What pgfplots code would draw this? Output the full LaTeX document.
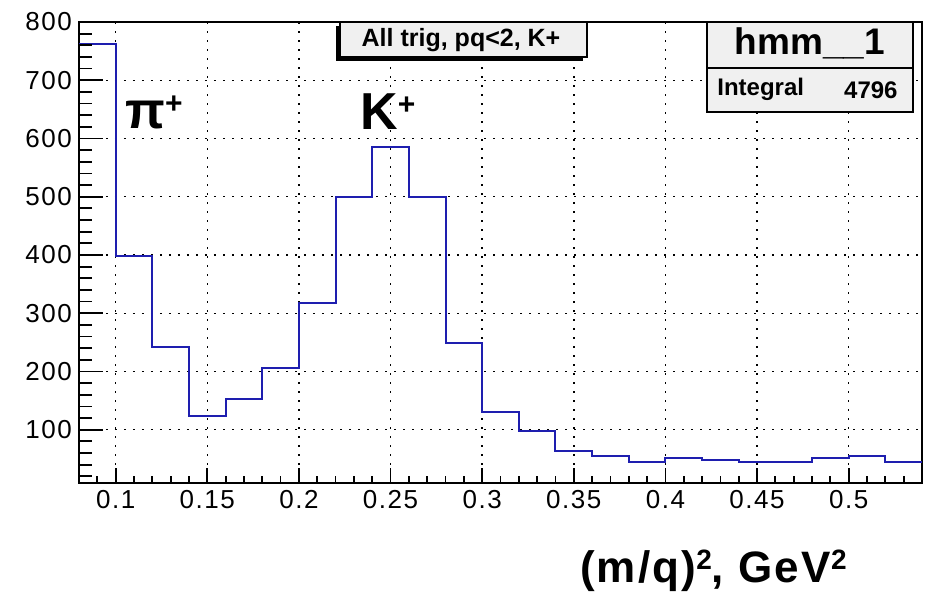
\documentclass[border=0pt]{standalone}
\usepackage{fontspec}
\setmainfont{Liberation Sans}
\newfontfamily\tickfont[LetterSpace=6]{Liberation Sans}
\newfontfamily\boldspaced[LetterSpace=5]{Liberation Sans Bold}
\usepackage{pgfplots}
\pgfplotsset{compat=1.18}
\definecolor{histblue}{RGB}{30,30,175}
\definecolor{boxgray}{RGB}{240,240,240}
\pgfplotsset{
  rootframe/.style={
    at={(0,0)}, anchor=south west,
    scale only axis, width=421.5pt, height=230.5pt,
    xmin=0.08, xmax=0.54, ymin=8.5, ymax=800,
  }
}
\begin{document}
\begin{tikzpicture}
\path[use as bounding box] (-39.5pt,-58pt) rectangle (426.5pt,241.5pt);
\begin{axis}[
  rootframe,
  axis line style={line width=1pt},
  tick align=inside,
  xtick pos=bottom, ytick pos=left,
  /pgf/number format/assume math mode=true,
  xtick={0.1,0.15,0.2,0.25,0.3,0.35,0.4,0.45,0.5},
  xticklabels={0.1,0.15,0.2,0.25,0.3,0.35,0.4,0.45,0.5},
  minor xtick={0.09,0.11,0.12,0.13,0.14,0.16,0.17,0.18,0.19,0.21,0.22,0.23,0.24,0.26,0.27,0.28,0.29,0.31,0.32,0.33,0.34,0.36,0.37,0.38,0.39,0.41,0.42,0.43,0.44,0.46,0.47,0.48,0.49,0.51,0.52,0.53},
  ytick={100,200,300,400,500,600,700,800},
  yticklabels={100,200,300,400,500,600,700,800},
  minor ytick={20,40,60,80,120,140,160,180,220,240,260,280,320,340,360,380,420,440,460,480,520,540,560,580,620,640,660,680,720,740,760,780},
  major tick length=7.5pt, minor tick length=3.5pt,
  tick style={black, line width=0.9pt},
  ticklabel style={font=\tickfont\fontsize{13}{15}\selectfont},
  xmajorgrids, ymajorgrids,
  major grid style={black, line width=0.7pt, dash pattern=on 0.8pt off 3.7pt},
]
\addplot[const plot mark left, histblue, line width=1pt, mark=none] coordinates {
(0.08,763) (0.10,398) (0.12,242) (0.14,123) (0.16,153) (0.18,206)
(0.20,318) (0.22,500) (0.24,585) (0.26,499) (0.28,249) (0.30,130)
(0.32,97) (0.34,64) (0.36,54) (0.38,44) (0.40,51) (0.42,48)
(0.44,44) (0.46,44) (0.48,51) (0.50,54) (0.52,44) (0.54,44)
};
\end{axis}
% overlay axis: longer y ticks as in the reference
\begin{axis}[
  rootframe,
  axis line style={draw=none},
  tick align=inside,
  xtick=\empty,
  ytick pos=left,
  ytick={100,200,300,400,500,600,700,800},
  yticklabels={},
  minor ytick={20,40,60,80,120,140,160,180,220,240,260,280,320,340,360,380,420,440,460,480,520,540,560,580,620,640,660,680,720,740,760,780},
  major tick length=12pt, minor tick length=6.5pt,
  tick style={black, line width=0.9pt},
]
\addplot[draw=none, mark=none] coordinates {(0.1,100) (0.5,700)};
\end{axis}
% title box with shadow
\fill[black] (128.5pt,211pt) rectangle (252pt,228.5pt);
\filldraw[fill=boxgray, draw=black, line width=0.6pt] (130.5pt,213pt) rectangle (254pt,230.5pt);
\node[anchor=base, inner sep=0pt, font=\bfseries\fontsize{12.5}{14}\selectfont] at (191pt,218pt) {All trig, pq<2, K+};
% stats box
\filldraw[fill=boxgray, draw=black, line width=0.8pt] (314pt,185.5pt) rectangle (417pt,230.5pt);
\draw[black, line width=0.8pt] (314pt,207.5pt) -- (417pt,207.5pt);
\node[anchor=base, inner sep=0pt, font=\bfseries\fontsize{18.5}{20}\selectfont] at (365.5pt,214pt) {hmm\_\_1};
\node[anchor=base west, inner sep=0pt, font=\bfseries\fontsize{12}{14}\selectfont] at (319pt,193.5pt) {Integral};
\node[anchor=base east, inner sep=0pt, font=\bfseries\fontsize{12}{14}\selectfont] at (409.5pt,192pt) {4796};
% particle labels
\node[anchor=base west, inner sep=0pt, font=\bfseries\fontsize{26}{28}\selectfont] at (23pt,177pt) {π\raisebox{0.3em}{\fontsize{15}{16}\selectfont +}};
\node[anchor=base west, inner sep=0pt, font=\bfseries\fontsize{26}{28}\selectfont] at (140.5pt,176.5pt) {K\raisebox{0.3em}{\fontsize{15}{16}\selectfont +}};
% axis title
\node[anchor=base east, inner sep=0pt, font=\boldspaced\fontsize{22}{24}\selectfont] at (384pt,-50pt) {(m/q)\raisebox{0.3em}{\fontsize{14}{15}\selectfont 2}, GeV\raisebox{0.3em}{\fontsize{14}{15}\selectfont 2}};
\end{tikzpicture}
\end{document}
